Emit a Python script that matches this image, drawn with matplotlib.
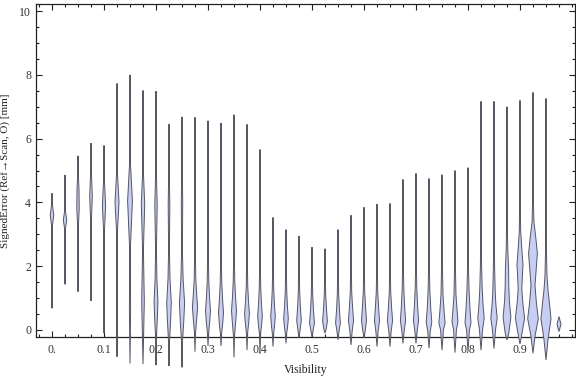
import matplotlib
matplotlib.use("Agg")
import matplotlib.pyplot as plt
from matplotlib.ticker import MultipleLocator, FixedLocator
import numpy as np

plt.rcParams['font.family'] = ['Liberation Serif', 'DejaVu Serif']

# visibility bins (violin centres)
visibility = [i * 0.025 for i in range(40)]

# range of each distribution (min, max) in mm
lows = [0.68, 1.43, 1.2, 0.91, -0.1, -0.84, -1.05, -1.07, -1.1, -1.13,
        -1.17, -0.68, -0.5, -0.5, -0.86, -0.63, -0.75, -0.52, -0.42, -0.25,
        -0.22, -0.1, -0.31, -0.47, -0.25, -0.52, -0.52, -0.42, -0.42, -0.57,
        -0.63, -0.71, -0.68, -0.63, -0.58, -0.31, -0.44, -0.73, -0.94, -0.05]
highs = [4.29, 4.86, 5.46, 5.86, 5.79, 7.73, 8.0, 7.51, 7.49, 6.46,
         6.68, 6.67, 6.56, 6.49, 6.75, 6.45, 5.66, 3.53, 3.15, 2.95,
         2.6, 2.55, 3.15, 3.6, 3.85, 3.95, 3.97, 4.72, 4.91, 4.75,
         4.87, 5.0, 5.09, 7.17, 7.17, 7.0, 7.2, 7.45, 7.26, 0.42]

# density profile: (error value, relative density)
profiles = [
    [(3.25, 0.3), (3.6, 1.8), (3.95, 0.3)],
    [(3.15, 0.3), (3.45, 1.7), (3.75, 0.3)],
    [(3.2, 0.3), (3.8, 1.2), (4.4, 1.0), (4.9, 0.3)],
    [(3.3, 0.3), (4.2, 1.3), (5.0, 0.3)],
    [(3.0, 0.3), (3.9, 1.6), (4.8, 0.3)],
    [(3.0, 0.3), (4.0, 2.0), (5.0, 0.3)],
    [(0.6, 0.6), (2.5, 0.3), (4.05, 2.4), (5.3, 0.3)],
    [(0.9, 1.3), (2.5, 0.4), (3.95, 1.7), (5.0, 0.3)],
    [(-0.3, 0.3), (0.4, 1.4), (0.9, 1.9), (1.6, 0.9), (2.5, 0.4), (3.9, 1.2), (5.0, 0.3)],
    [(-0.4, 0.4), (0.3, 1.6), (0.85, 2.3), (1.6, 1.0), (2.5, 0.4), (3.9, 0.8), (5.0, 0.3)],
    [(-0.4, 0.4), (0.3, 1.8), (0.85, 2.6), (1.6, 1.1), (2.5, 0.4), (4.0, 0.7), (5.0, 0.3)],
    [(-0.1, 0.5), (0.35, 1.7), (0.7, 2.6), (1.1, 1.7), (1.6, 0.8), (2.3, 0.4)],
    [(-0.1, 0.6), (0.25, 1.7), (0.6, 2.5), (1.0, 1.6), (1.5, 0.8), (2.2, 0.4)],
    [(-0.1, 0.6), (0.2, 1.7), (0.55, 2.5), (0.95, 1.6), (1.45, 0.8), (2.1, 0.4)],
    [(-0.2, 0.5), (0.25, 1.7), (0.6, 2.5), (1.0, 1.6), (1.5, 0.8), (2.2, 0.4)],
    [(-0.1, 0.6), (0.2, 1.6), (0.5, 2.4), (0.9, 1.5), (1.4, 0.7), (2.1, 0.4)],
    [(-0.1, 0.6), (0.15, 1.6), (0.45, 2.3), (0.85, 1.4), (1.35, 0.7), (2.0, 0.4)],
    [(-0.1, 0.7), (0.15, 1.6), (0.42, 2.3), (0.8, 1.4), (1.3, 0.7), (1.9, 0.4)],
    [(-0.1, 0.7), (0.1, 1.6), (0.36, 2.3), (0.75, 1.4), (1.25, 0.7), (1.8, 0.4)],
    [(-0.05, 0.9), (0.3, 2.3), (0.7, 1.4), (1.2, 0.7), (1.8, 0.4)],
    [(0.0, 1.2), (0.22, 2.5), (0.6, 1.5), (1.1, 0.7), (1.7, 0.4)],
    [(0.05, 1.3), (0.28, 2.4), (0.65, 1.5), (1.1, 0.7), (1.7, 0.4)],
    [(0.0, 1.2), (0.22, 2.4), (0.6, 1.5), (1.1, 0.7), (1.7, 0.4)],
    [(-0.05, 1.1), (0.3, 2.6), (0.7, 1.6), (1.2, 0.7), (1.8, 0.4)],
    [(-0.05, 1.1), (0.3, 2.5), (0.7, 1.6), (1.2, 0.7), (1.8, 0.4)],
    [(-0.05, 1.1), (0.3, 2.5), (0.7, 1.6), (1.2, 0.7), (1.8, 0.4)],
    [(-0.05, 1.1), (0.3, 2.6), (0.7, 1.6), (1.2, 0.7), (1.8, 0.4)],
    [(-0.05, 1.1), (0.3, 2.6), (0.7, 1.7), (1.3, 0.8), (2.0, 0.4)],
    [(-0.05, 1.1), (0.3, 2.6), (0.7, 1.7), (1.3, 0.8), (2.0, 0.4)],
    [(-0.05, 1.2), (0.25, 2.8), (0.65, 1.8), (1.2, 0.9), (1.9, 0.4)],
    [(0.0, 1.4), (0.21, 3.1), (0.6, 2.1), (1.1, 1.0), (1.7, 0.6), (2.4, 0.35)],
    [(0.0, 1.4), (0.26, 3.0), (0.65, 2.0), (1.1, 1.0), (1.7, 0.6), (2.4, 0.35)],
    [(0.0, 1.4), (0.22, 3.0), (0.65, 2.0), (1.2, 1.1), (1.8, 0.6), (2.5, 0.35)],
    [(0.0, 1.5), (0.37, 3.2), (0.8, 2.0), (1.3, 1.2), (2.0, 0.6), (2.8, 0.35)],
    [(0.0, 1.5), (0.37, 3.2), (0.8, 1.9), (1.2, 1.2), (2.0, 0.6), (3.0, 0.35)],
    [(-0.1, 1.8), (0.4, 3.9), (0.9, 2.4), (1.4, 1.8), (1.9, 1.6), (2.5, 0.8), (3.2, 0.4)],
    [(-0.1, 2.0), (0.37, 4.6), (0.85, 2.8), (1.3, 1.8), (1.7, 2.4), (2.05, 3.0),
     (2.6, 1.7), (3.1, 0.7), (3.8, 0.35)],
    [(-0.2, 2.0), (0.35, 5.3), (0.85, 3.4), (1.4, 2.0), (1.9, 3.2), (2.4, 4.4),
     (2.9, 2.8), (3.4, 0.9), (4.2, 0.35)],
    [(-0.3, 2.0), (0.35, 5.0), (0.8, 3.6), (1.25, 2.0), (1.7, 1.0), (2.4, 0.5), (3.2, 0.35)],
    [(0.18, 2.0)],
]

xticks = [0.0, 0.1, 0.2, 0.3, 0.4, 0.5, 0.6, 0.7, 0.8, 0.9]
xticklabels = ["0.", "0.1", "0.2", "0.3", "0.4", "0.5", "0.6", "0.7", "0.8", "0.9"]
yticks = [0, 2, 4, 6, 8, 10]

fig = plt.figure(figsize=(5.76, 3.77), dpi=100)
ax = fig.add_axes([36 / 576, 40 / 377, 539 / 576, 333 / 377])
ax.set_xlim(-0.0308, 1.0058)
ax.set_ylim(-0.22, 10.22)

# density units -> x data units (one unit is about one pixel)
scale = (ax.get_xlim()[1] - ax.get_xlim()[0]) / 539

for x0, lo, hi, prof in zip(visibility, lows, highs, profiles):
    ys = np.array([lo] + [p[0] for p in prof] + [hi])
    ws = np.array([0.0] + [p[1] for p in prof] + [0.0]) * scale
    px = np.concatenate([x0 - ws, (x0 + ws)[::-1]])
    py = np.concatenate([ys, ys[::-1]])
    ax.fill(px, py, facecolor='#c6cff3', edgecolor='#555562', linewidth=0.7,
            clip_on=False, zorder=3)

ax.xaxis.set_major_locator(FixedLocator(xticks))
ax.set_xticklabels(xticklabels)
ax.xaxis.set_minor_locator(MultipleLocator(0.025))
ax.yaxis.set_major_locator(FixedLocator(yticks))
ax.yaxis.set_minor_locator(MultipleLocator(0.5))

ax.tick_params(which='both', direction='in', top=True, right=True,
               labelsize=8.5, labelcolor='#333333', color='#222222', width=0.8)
ax.tick_params(which='major', length=4.5)
ax.tick_params(which='minor', length=2.5)
ax.tick_params(axis='x', pad=5)
ax.tick_params(axis='y', pad=3.5)
for s in ax.spines.values():
    s.set_linewidth(0.9)
    s.set_color('#222222')

ax.set_xlabel("Visibility", fontsize=8.5, color='#222222', labelpad=6)
ax.set_ylabel("SignedError (Ref\u2192Scan, O) [mm]", fontsize=8, color='#222222',
              labelpad=7)

fig.savefig("out.png", dpi=100)
